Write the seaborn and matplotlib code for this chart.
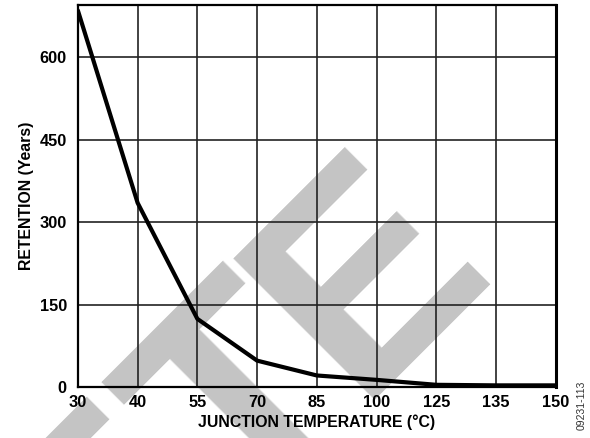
import matplotlib
matplotlib.use("Agg")
import matplotlib.pyplot as plt
import seaborn as sns
import numpy as np

temps = ["30", "40", "55", "70", "85", "100", "125", "135", "150"]
retention = [685, 335, 124, 48, 21, 13, 4, 3, 3]
y_ticks = [0, 150, 300, 450, 600]

sns.set_theme(style="white")
plt.rcParams["font.family"] = ["Liberation Sans", "DejaVu Sans"]
plt.rcParams["font.weight"] = "bold"

W, H = 590, 438
fig = plt.figure(figsize=(W / 100, H / 100), dpi=100)
ax = fig.add_axes([0.132, 0.1164, 0.810, 0.8722])
ax.patch.set_alpha(0)

# watermark (two pieces to tighten spacing before the last letter)
wm = dict(rotation=45, rotation_mode="anchor", ha="right", va="baseline",
          fontsize=210, fontweight="bold", color="#c4c4c4", zorder=-1,
          family="Liberation Sans")
fig.text(493 / W, 1 - 262 / H, "E", **wm)
fig.text(364 / W, 1 - 391 / H, "OBSOLET", **wm)

sns.lineplot(x=temps, y=retention, ax=ax, color="black", linewidth=3.0,
             sort=False, zorder=5)

ax.set_xlim(0, len(temps) - 1)
ax.set_ylim(0, 695)
ax.set_xticks(range(len(temps)))
ax.set_xticklabels(temps)
ax.set_yticks(y_ticks)
ax.grid(True, color="#222222", linewidth=1.2)
ax.tick_params(axis="both", length=0, labelsize=11.8, colors="black")
ax.tick_params(axis="x", pad=6)
ax.tick_params(axis="y", pad=8)
for lab in ax.get_xticklabels() + ax.get_yticklabels():
    lab.set_fontweight("bold")

for side, sp in ax.spines.items():
    sp.set_visible(True)
    sp.set_color("black")
    sp.set_linewidth(1.6)
ax.spines["right"].set_linewidth(2.2)

ax.set_xlabel("JUNCTION TEMPERATURE (°C)", fontsize=11.4, fontweight="bold",
              labelpad=3, color="black")
ax.set_ylabel("RETENTION (Years)", fontsize=11.4, fontweight="bold",
              labelpad=4, color="black")

fig.text(0.986, 0.075, "09231-113", rotation=90, fontsize=7.5,
         color="#333333", ha="center", va="center", fontweight="normal")

fig.savefig("out.png", dpi=100, facecolor="white")
